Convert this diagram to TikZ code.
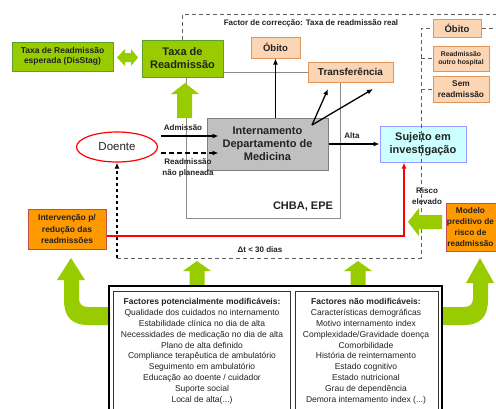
\documentclass[tikz,border=0pt]{standalone}
\usepackage{fontspec}
\setmainfont{Liberation Sans}
\usetikzlibrary{arrows.meta,shapes.geometric,calc}
\newcommand\fsz[2]{\fontsize{#1}{#2}\selectfont}
\definecolor{lime}{HTML}{99CC00}
\definecolor{limeborder}{HTML}{5E9E2E}
\definecolor{orangefill}{HTML}{FF9900}
\definecolor{orangeborder}{HTML}{C0504D}
\definecolor{peach}{HTML}{FCD5B4}
\definecolor{peachborder}{HTML}{E0965A}
\definecolor{cyanfill}{HTML}{CCFFFF}
\definecolor{cyanborder}{HTML}{9999FF}
\definecolor{greyfill}{HTML}{C0C0C0}
\definecolor{greyborder}{HTML}{7F7F7F}
\definecolor{linegrey}{HTML}{8C8C8C}
\definecolor{dashgrey}{HTML}{606060}
\definecolor{txt}{HTML}{222222}
\tikzset{
  box/.style={draw, inner sep=0pt, align=center, text=txt},
  greenbox/.style={box, draw=limeborder, fill=lime, line width=1pt},
  orangebox/.style={box, draw=orangeborder, fill=orangefill, line width=1pt, font=\bfseries\fsz{8.5}{11.5}},
  peachbox/.style={box, draw=peachborder, fill=peach, line width=1pt},
  arr/.style={-{Latex[length=6pt,width=5pt]}, line width=1.3pt, black},
  dashframe/.style={dashgrey, line width=0.9pt, dash pattern=on 4pt off 3pt},
  greenarrow/.style={fill=lime, draw=none},
  lbl/.style={inner sep=0pt, align=center, text=txt, font=\bfseries\fsz{8}{10.5}},
  listtext/.style={inner sep=0pt, align=center, text=txt, font=\fsz{8.5}{10.8}, anchor=north}
}
\begin{document}
\begin{tikzpicture}[x=1pt,y=-1pt]
\useasboundingbox (0,0) rectangle (496,408);
\clip (0,0) rectangle (496,408);
\fill[white] (0,0) rectangle (496,408);

% coordinates of frames
\coordinate (fl) at (182,14);
\coordinate (bl) at (117,258);
\coordinate (br) at (421,258);
\coordinate (gl) at (186,218);
\coordinate (gr) at (340,218);
\coordinate (rc) at (404,236);
\coordinate (split) at (312,125);
\coordinate (t1) at (328,89);
\coordinate (t2) at (373,89);
\coordinate (adm0) at (161,136);
\coordinate (rdm0) at (161,153);

% nodes
\node[greenbox, minimum width=101pt, minimum height=29pt, font=\bfseries\fsz{8.5}{10.5}] (esp) at (62.5,56.5) {Taxa de Readmissão\\esperada (DisStag)};
\node[greenbox, minimum width=81pt, minimum height=37pt, font=\bfseries\fsz{11}{13}] (taxa) at (182.5,58.5) {Taxa de\\Readmissão};
\node[peachbox, minimum width=49pt, minimum height=21pt, font=\bfseries\fsz{9.5}{11}] (obm) at (275.5,47.5) {Óbito};
\node[peachbox, minimum width=85pt, minimum height=20pt, font=\bfseries\fsz{10}{12}] (trans) at (350.5,72) {Transferência};
\node[peachbox, minimum width=48pt, minimum height=18pt, font=\bfseries\fsz{9.5}{11}] (ob2) at (457,28) {Óbito};
\node[peachbox, minimum width=56pt, minimum height=25pt, font=\bfseries\fsz{6.8}{8.5}] (rout) at (461,58.5) {Readmissão\\outro hospital};
\node[peachbox, minimum width=56pt, minimum height=26pt, font=\bfseries\fsz{8.3}{10.5}] (sem) at (461,89) {Sem\\readmissão};

% grey frame (CHBA)
\draw[linegrey, line width=1pt] (taxa.east |- trans.west) -- (trans.west);
\draw[linegrey, line width=1pt] (gl |- taxa.south) -- (gl) -- (gr) -- (gr |- trans.south);

\node[box, draw=greyborder, fill=greyfill, line width=1pt, minimum width=121pt, minimum height=52pt, font=\bfseries\fsz{11}{13}] (int) at (267.5,144) {Internamento\\Departamento de\\Medicina};
\node[box, draw=cyanborder, fill=cyanfill, line width=1pt, minimum width=86pt, minimum height=36pt, font=\bfseries\fsz{11}{13}] (suj) at (423,144) {Sujeito em\\investigação};
\node[ellipse, draw=red, line width=1.2pt, minimum width=81pt, minimum height=30pt, inner sep=0pt, text=txt, font=\fsz{11.5}{13}] (doente) at (117,147) {Doente};
\node[orangebox, minimum width=78pt, minimum height=40pt] (interv) at (67,229) {Intervenção p/\\redução das\\readmissões};
\node[orangebox, minimum width=60pt, minimum height=48pt] (modelo) at (476,227) {};
\node[lbl, font=\bfseries\fsz{8.3}{11}] (modlbl) at (470.5,227) {Modelo\\preditivo de\\risco de\\readmissão};

% dashed frame
\draw[dashframe] (fl |- taxa.north) -- (fl) -- (500,14);
\draw[dashframe] (bl) -- (br) -- (br |- ob2.west) -- (ob2.west);
\draw[dashframe] (ob2.east) -- (500,28);
\draw[dashframe] (br |- rout.west) -- (rout.west);
\draw[dashframe] (br |- sem.west) -- (sem.west);

% labels
\node[lbl] (fct) at (311,23) {Factor de correcção: Taxa de readmissão real};
\node[lbl] (admlbl) at (183,128) {Admissão};
\node[lbl, font=\bfseries\fsz{8}{11}] (rdmlbl) at (188,167.5) {Readmissão\\não planeada};
\node[lbl] (altalbl) at (352,136) {Alta};
\node[lbl, font=\bfseries\fsz{11}{13}] (chba) at (303,207) {CHBA, EPE};
\node[lbl, font=\bfseries\fsz{8}{11}] (risco) at (427,196) {Risco\\elevado};
\node[lbl] (dt) at (260,250) {Δt < 30 dias};

% connectors
\draw[arr] (obm.south |- int.north) -- (obm.south);
\draw[arr] (split) -- (t1);
\draw[arr] (split) -- (t2);
\draw[arr] (adm0) -- ($(int.west |- adm0)+(12,0)$);
\draw[arr, dash pattern=on 5pt off 3pt] (rdm0) -- ($(int.west |- rdm0)+(12,0)$);
\draw[arr] (int.east) -- (suj.west);
\draw[arr, line width=1.3pt, dash pattern=on 3.5pt off 2.5pt] (bl) -- (doente.south);
\draw[red, line width=1.2pt, -{Latex[length=6pt,width=5pt]}] (interv.east |- rc) -- (rc) -- (suj.south -| rc);

% green block arrows
\fill[greenarrow] (117,57.5) -- (125,49) -- (125,53) -- (131,53) -- (131,49) -- (138,57.5) -- (131,66) -- (131,62) -- (125,62) -- (125,66) -- cycle;
\fill[greenarrow] (185,83) -- (199,94) -- (192,94) -- (192,118) -- (177,118) -- (177,94) -- (171,94) -- cycle;
\fill[greenarrow] (408,222) -- (419,208) -- (419,215) -- (442,215) -- (442,229) -- (419,229) -- (419,236) -- cycle;
\foreach \cx in {197,358}{
  \fill[greenarrow] (\cx,261) -- (\cx+14,271) -- (\cx+7.5,271) -- (\cx+7.5,286) -- (\cx-7.5,286) -- (\cx-7.5,271) -- (\cx-14,271) -- cycle;
}
% bent arrows
\fill[greenarrow] (71,258) -- (85,280) -- (79,280) -- (79,298) .. controls (79,304) and (82,307) .. (88,307) -- (110,307) -- (110,325) -- (88,325) .. controls (72,325) and (64,317) .. (64,300) -- (64,280) -- (57,280) -- cycle;
\fill[greenarrow] (480,258) -- (494,283) -- (488,283) -- (488,300) .. controls (488,317) and (480,325) .. (464,325) -- (442,325) -- (442,307) -- (464,307) .. controls (470,307) and (473,304) .. (473,298) -- (473,283) -- (466,283) -- cycle;

% bottom factor boxes
\draw[black, line width=1.6pt] (109,415) -- (109,286) -- (442,286) -- (442,415);
\draw[black!80, line width=0.6pt] (113,415) -- (113,291) -- (290,291) -- (290,415);
\draw[black!80, line width=0.6pt] (295,415) -- (295,291) -- (438,291) -- (438,415);
\node[listtext] (modf) at (202,298.5) {\textbf{Factores potencialmente modificáveis:}\\Qualidade dos cuidados no internamento\\Estabilidade clínica no dia de alta\\Necessidades de medicação no dia de alta\\Plano de alta definido\\Compliance terapêutica de ambulatório\\Seguimento em ambulatório\\Educação ao doente / cuidador\\Suporte social\\Local de alta(...)};
\node[listtext] (nmodf) at (366,298.5) {\textbf{Factores não modificáveis:}\\Características demográficas\\Motivo internamento index\\Complexidade/Gravidade doença\\Comorbilidade\\História de reinternamento\\Estado cognitivo\\Estado nutricional\\Grau de dependência\\Demora internamento index (...)};
\end{tikzpicture}
\end{document}
